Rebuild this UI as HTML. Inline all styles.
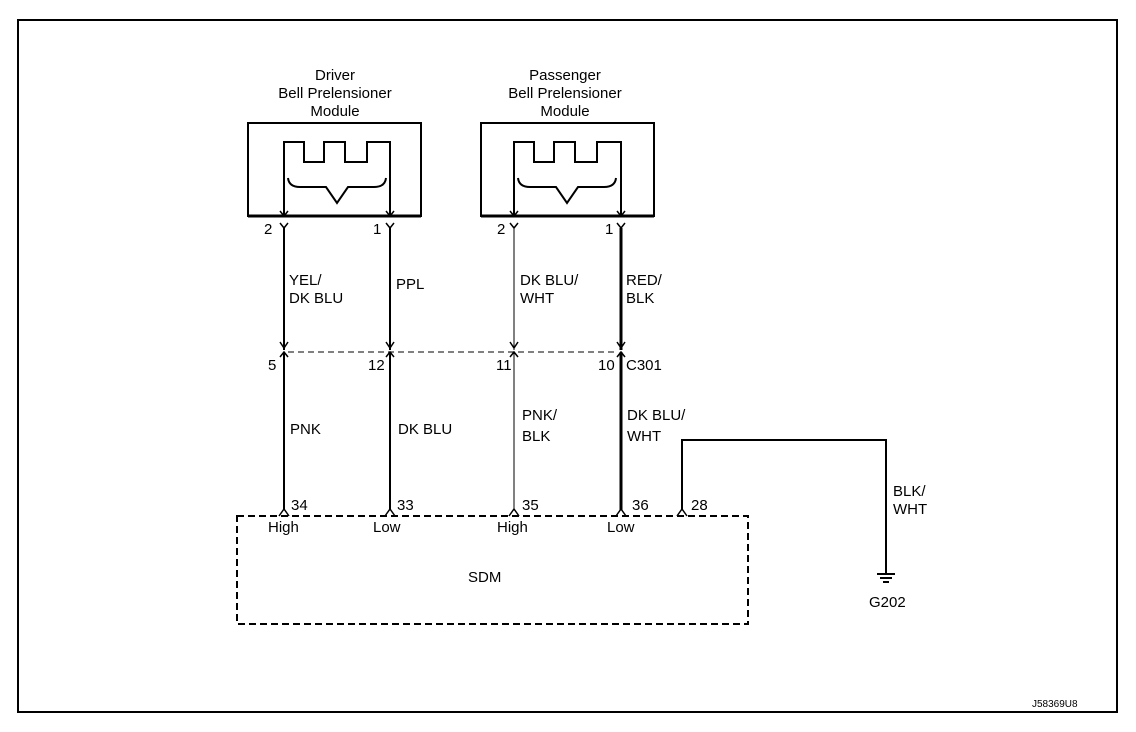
<!DOCTYPE html>
<html><head><meta charset="utf-8"><style>
body{margin:0;background:#fff}
svg{display:block}
text{font-family:"Liberation Sans",sans-serif;font-size:15px;fill:#000}
</style></head><body>
<svg width="1136" height="732" viewBox="0 0 1136 732">
<rect x="18" y="20" width="1099" height="692" fill="none" stroke="#000" stroke-width="2"/>
<!-- module titles -->
<g text-anchor="middle">
<text x="335" y="80">Driver</text>
<text x="335" y="98">Bell  Prelensioner</text>
<text x="335" y="116">Module</text>
<text x="565" y="80">Passenger</text>
<text x="565" y="98">Bell  Prelensioner</text>
<text x="565" y="116">Module</text>
</g>
<!-- boxes -->
<g fill="none" stroke="#000">
<path d="M248,123 V216 H421 V123 Z" stroke-width="2"/>
<path d="M248,216 H421" stroke-width="3"/>
<path d="M481,123 V216 H654 V123 Z" stroke-width="2"/>
<path d="M481,216 H654" stroke-width="3"/>
<!-- square waves -->
<path d="M284,216 V142 H304 V162 H324 V142 H345 V162 H367 V142 H390 V216" stroke-width="2"/>
<path d="M514,216 V142 H534 V162 H554 V142 H575 V162 H597 V142 H621 V216" stroke-width="2"/>
<!-- braces -->
<path d="M288,178 Q289,187 300,187 H326 L337,203 L348,187 H374 Q385,187 386,178" stroke-width="2"/>
<path d="M518,178 Q519,187 530,187 H556 L567,203 L578,187 H604 Q615,187 616,178" stroke-width="2"/>
<!-- arrowheads inside box -->
<path d="M280,211 L284,216 L288,211 M386,211 L390,216 L394,211 M510,211 L514,216 L518,211 M617,211 L621,216 L625,211" stroke-width="1.5"/>
<!-- connector Ys at modules -->
<path d="M280,223 L284,228 L288,223 M386,223 L390,228 L394,223 M510,223 L514,228 L518,223 M617,223 L621,228 L625,223" stroke-width="1.5"/>
<!-- wires upper -->
<path d="M284,228 V350" stroke-width="2"/>
<path d="M390,228 V350" stroke-width="2"/>
<path d="M514,228 V350" stroke-width="1"/>
<path d="M621,228 V350" stroke-width="3"/>
<path d="M280,342 L284,348 L288,342 M386,342 L390,348 L394,342 M510,342 L514,348 L518,342 M617,342 L621,348 L625,342" stroke-width="1.5"/>
<!-- C301 dashed -->
<path d="M288,352 H618" stroke-width="1" stroke-dasharray="6,4"/>
<path d="M280,357 L284,352 L288,357 M386,357 L390,352 L394,357 M510,357 L514,352 L518,357 M617,357 L621,352 L625,357" stroke-width="1.5"/>
<!-- lower wires -->
<path d="M284,352 V510" stroke-width="2"/>
<path d="M390,352 V510" stroke-width="2"/>
<path d="M514,352 V510" stroke-width="1"/>
<path d="M621,352 V510" stroke-width="3"/>
<!-- SDM pins -->
<path d="M279,516 L284,509 L289,516 M385,516 L390,509 L395,516 M509,516 L514,509 L519,516 M616,516 L621,509 L626,516 M677,516 L682,509 L687,516" stroke-width="1.5"/>
<!-- SDM box -->
<rect x="237" y="516" width="511" height="108" stroke-width="2" stroke-dasharray="7,4"/>
<!-- ground wire -->
<path d="M682,510 V440 H886 V574" stroke-width="2"/>
<path d="M877,574 H895 M880,578 H892 M883,582 H889" stroke-width="2"/>
</g>
<!-- pin labels -->
<text x="264" y="234">2</text>
<text x="373" y="234">1</text>
<text x="497" y="234">2</text>
<text x="605" y="234">1</text>
<text x="289" y="285">YEL/</text><text x="289" y="303">DK BLU</text>
<text x="396" y="289">PPL</text>
<text x="520" y="285">DK BLU/</text><text x="520" y="303">WHT</text>
<text x="626" y="285">RED/</text><text x="626" y="303">BLK</text>
<text x="268" y="370">5</text>
<text x="368" y="370">12</text>
<text x="496" y="370">11</text>
<text x="598" y="370">10</text>
<text x="626" y="370">C301</text>
<text x="290" y="434">PNK</text>
<text x="398" y="434">DK BLU</text>
<text x="522" y="420">PNK/</text><text x="522" y="441">BLK</text>
<text x="627" y="420">DK BLU/</text><text x="627" y="441">WHT</text>
<text x="893" y="496">BLK/</text><text x="893" y="514">WHT</text>
<text x="291" y="510">34</text>
<text x="397" y="510">33</text>
<text x="522" y="510">35</text>
<text x="632" y="510">36</text>
<text x="691" y="510">28</text>
<text x="268" y="532">High</text>
<text x="373" y="532">Low</text>
<text x="497" y="532">High</text>
<text x="607" y="532">Low</text>
<text x="468" y="582">SDM</text>
<text x="869" y="607">G202</text>
<text x="1032" y="707" style="font-size:10px">J58369U8</text>
</svg>
</body></html>
